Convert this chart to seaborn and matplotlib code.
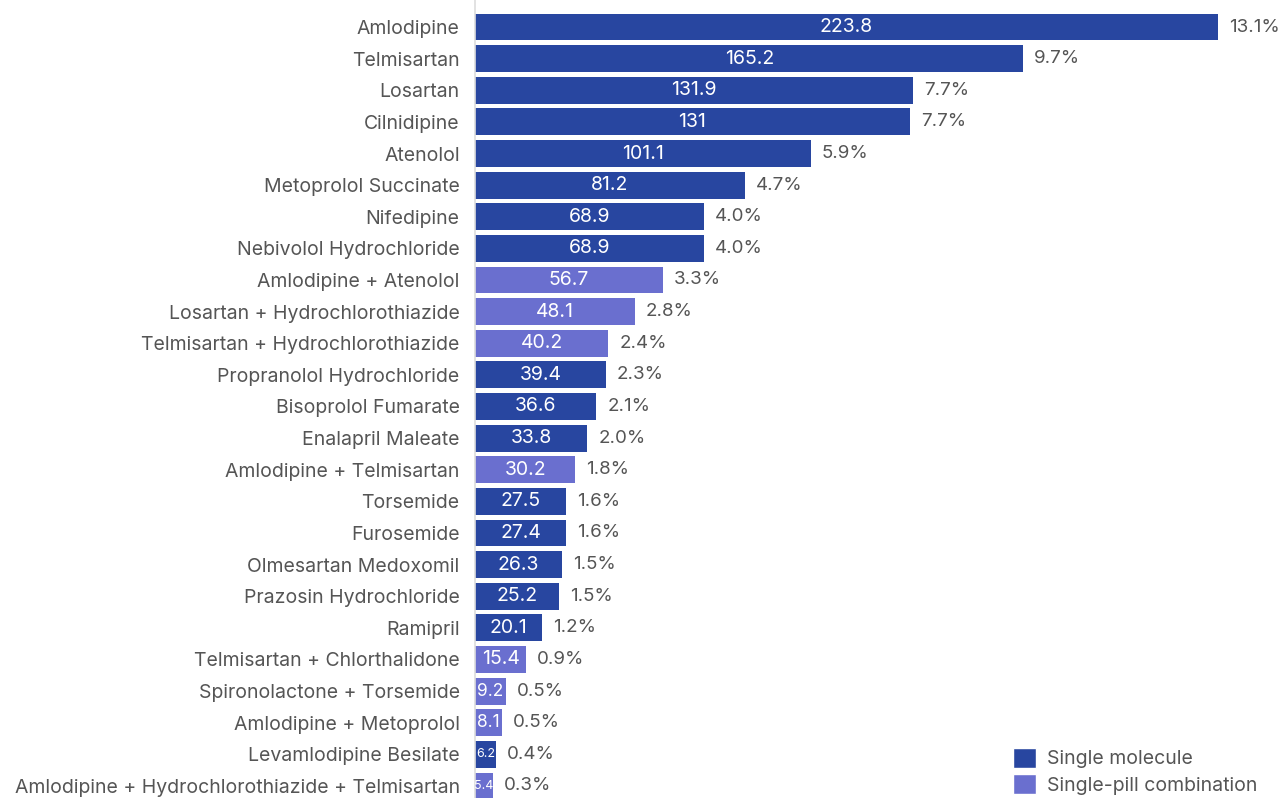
import pandas as pd
import matplotlib.pyplot as plt
import seaborn as sns
from matplotlib.patches import Patch

drugs = [
    "Amlodipine", "Telmisartan", "Losartan", "Cilnidipine", "Atenolol",
    "Metoprolol Succinate", "Nifedipine", "Nebivolol Hydrochloride",
    "Amlodipine + Atenolol", "Losartan + Hydrochlorothiazide",
    "Telmisartan + Hydrochlorothiazide", "Propranolol Hydrochloride",
    "Bisoprolol Fumarate", "Enalapril Maleate", "Amlodipine + Telmisartan",
    "Torsemide", "Furosemide", "Olmesartan Medoxomil", "Prazosin Hydrochloride",
    "Ramipril", "Telmisartan + Chlorthalidone", "Spironolactone + Torsemide",
    "Amlodipine + Metoprolol", "Levamlodipine Besilate",
    "Amlodipine + Hydrochlorothiazide + Telmisartan",
]
values = [223.8, 165.2, 131.9, 131, 101.1, 81.2, 68.9, 68.9, 56.7, 48.1,
          40.2, 39.4, 36.6, 33.8, 30.2, 27.5, 27.4, 26.3, 25.2, 20.1,
          15.4, 9.2, 8.1, 6.2, 5.4]
value_labels = ["223.8", "165.2", "131.9", "131", "101.1", "81.2", "68.9", "68.9",
                "56.7", "48.1", "40.2", "39.4", "36.6", "33.8", "30.2", "27.5",
                "27.4", "26.3", "25.2", "20.1", "15.4", "9.2", "8.1", "6.2", "5.4"]
shares = ["13.1%", "9.7%", "7.7%", "7.7%", "5.9%", "4.7%", "4.0%", "4.0%",
          "3.3%", "2.8%", "2.4%", "2.3%", "2.1%", "2.0%", "1.8%", "1.6%",
          "1.6%", "1.5%", "1.5%", "1.2%", "0.9%", "0.5%", "0.5%", "0.4%", "0.3%"]
kinds = ["Single molecule"] * 8 + ["Single-pill combination"] * 3 + \
        ["Single molecule"] * 3 + ["Single-pill combination"] + \
        ["Single molecule"] * 5 + ["Single-pill combination"] * 3 + \
        ["Single molecule", "Single-pill combination"]

colors = {"Single molecule": "#2846a0", "Single-pill combination": "#6a6fcf"}
text_grey = "#555555"

df = pd.DataFrame({"drug": drugs, "value": values, "kind": kinds})

sns.set_style("white")
plt.rcParams["font.family"] = ["Inter", "DejaVu Sans"]

fig = plt.figure(figsize=(12.8, 7.98), dpi=100)
ax = fig.add_axes([475 / 1280, 0, 1 - 475 / 1280, 1])

sns.barplot(data=df, x="value", y="drug", hue="kind", palette=colors,
            dodge=False, width=0.85, saturation=1, ax=ax, legend=False,
            linewidth=0)

ax.set_xlim(0, 242.5)
ax.set_ylim(24.38, -0.854)
ax.set_xlabel("")
ax.set_ylabel("")
ax.set_xticks([])
ax.tick_params(axis="y", length=0, pad=11, labelsize=14, labelcolor=text_grey)
for s in ["top", "right", "bottom"]:
    ax.spines[s].set_visible(False)
ax.spines["left"].set_color("#dddddd")
ax.spines["left"].set_linewidth(1.2)

for i, (v, lab, sh) in enumerate(zip(values, value_labels, shares)):
    fs = 14
    if v < 7:
        fs = 9
    elif v < 10:
        fs = 12.5
    ax.text(v / 2, i, lab, ha="center", va="center", color="white", fontsize=fs)
    ax.text(v + 3.3, i, sh, ha="left", va="center", color=text_grey, fontsize=13.5)

handles = [Patch(facecolor=colors[k], label=k) for k in colors]
fig.legend(handles=handles, loc="upper left", bbox_to_anchor=(1005 / 1280, 1 - 740 / 798),
           frameon=False, fontsize=14, labelcolor=text_grey, handlelength=1.2,
           handleheight=1.2, handletextpad=0.55, labelspacing=0.3, borderaxespad=0)

fig.savefig("out.png", dpi=100)
